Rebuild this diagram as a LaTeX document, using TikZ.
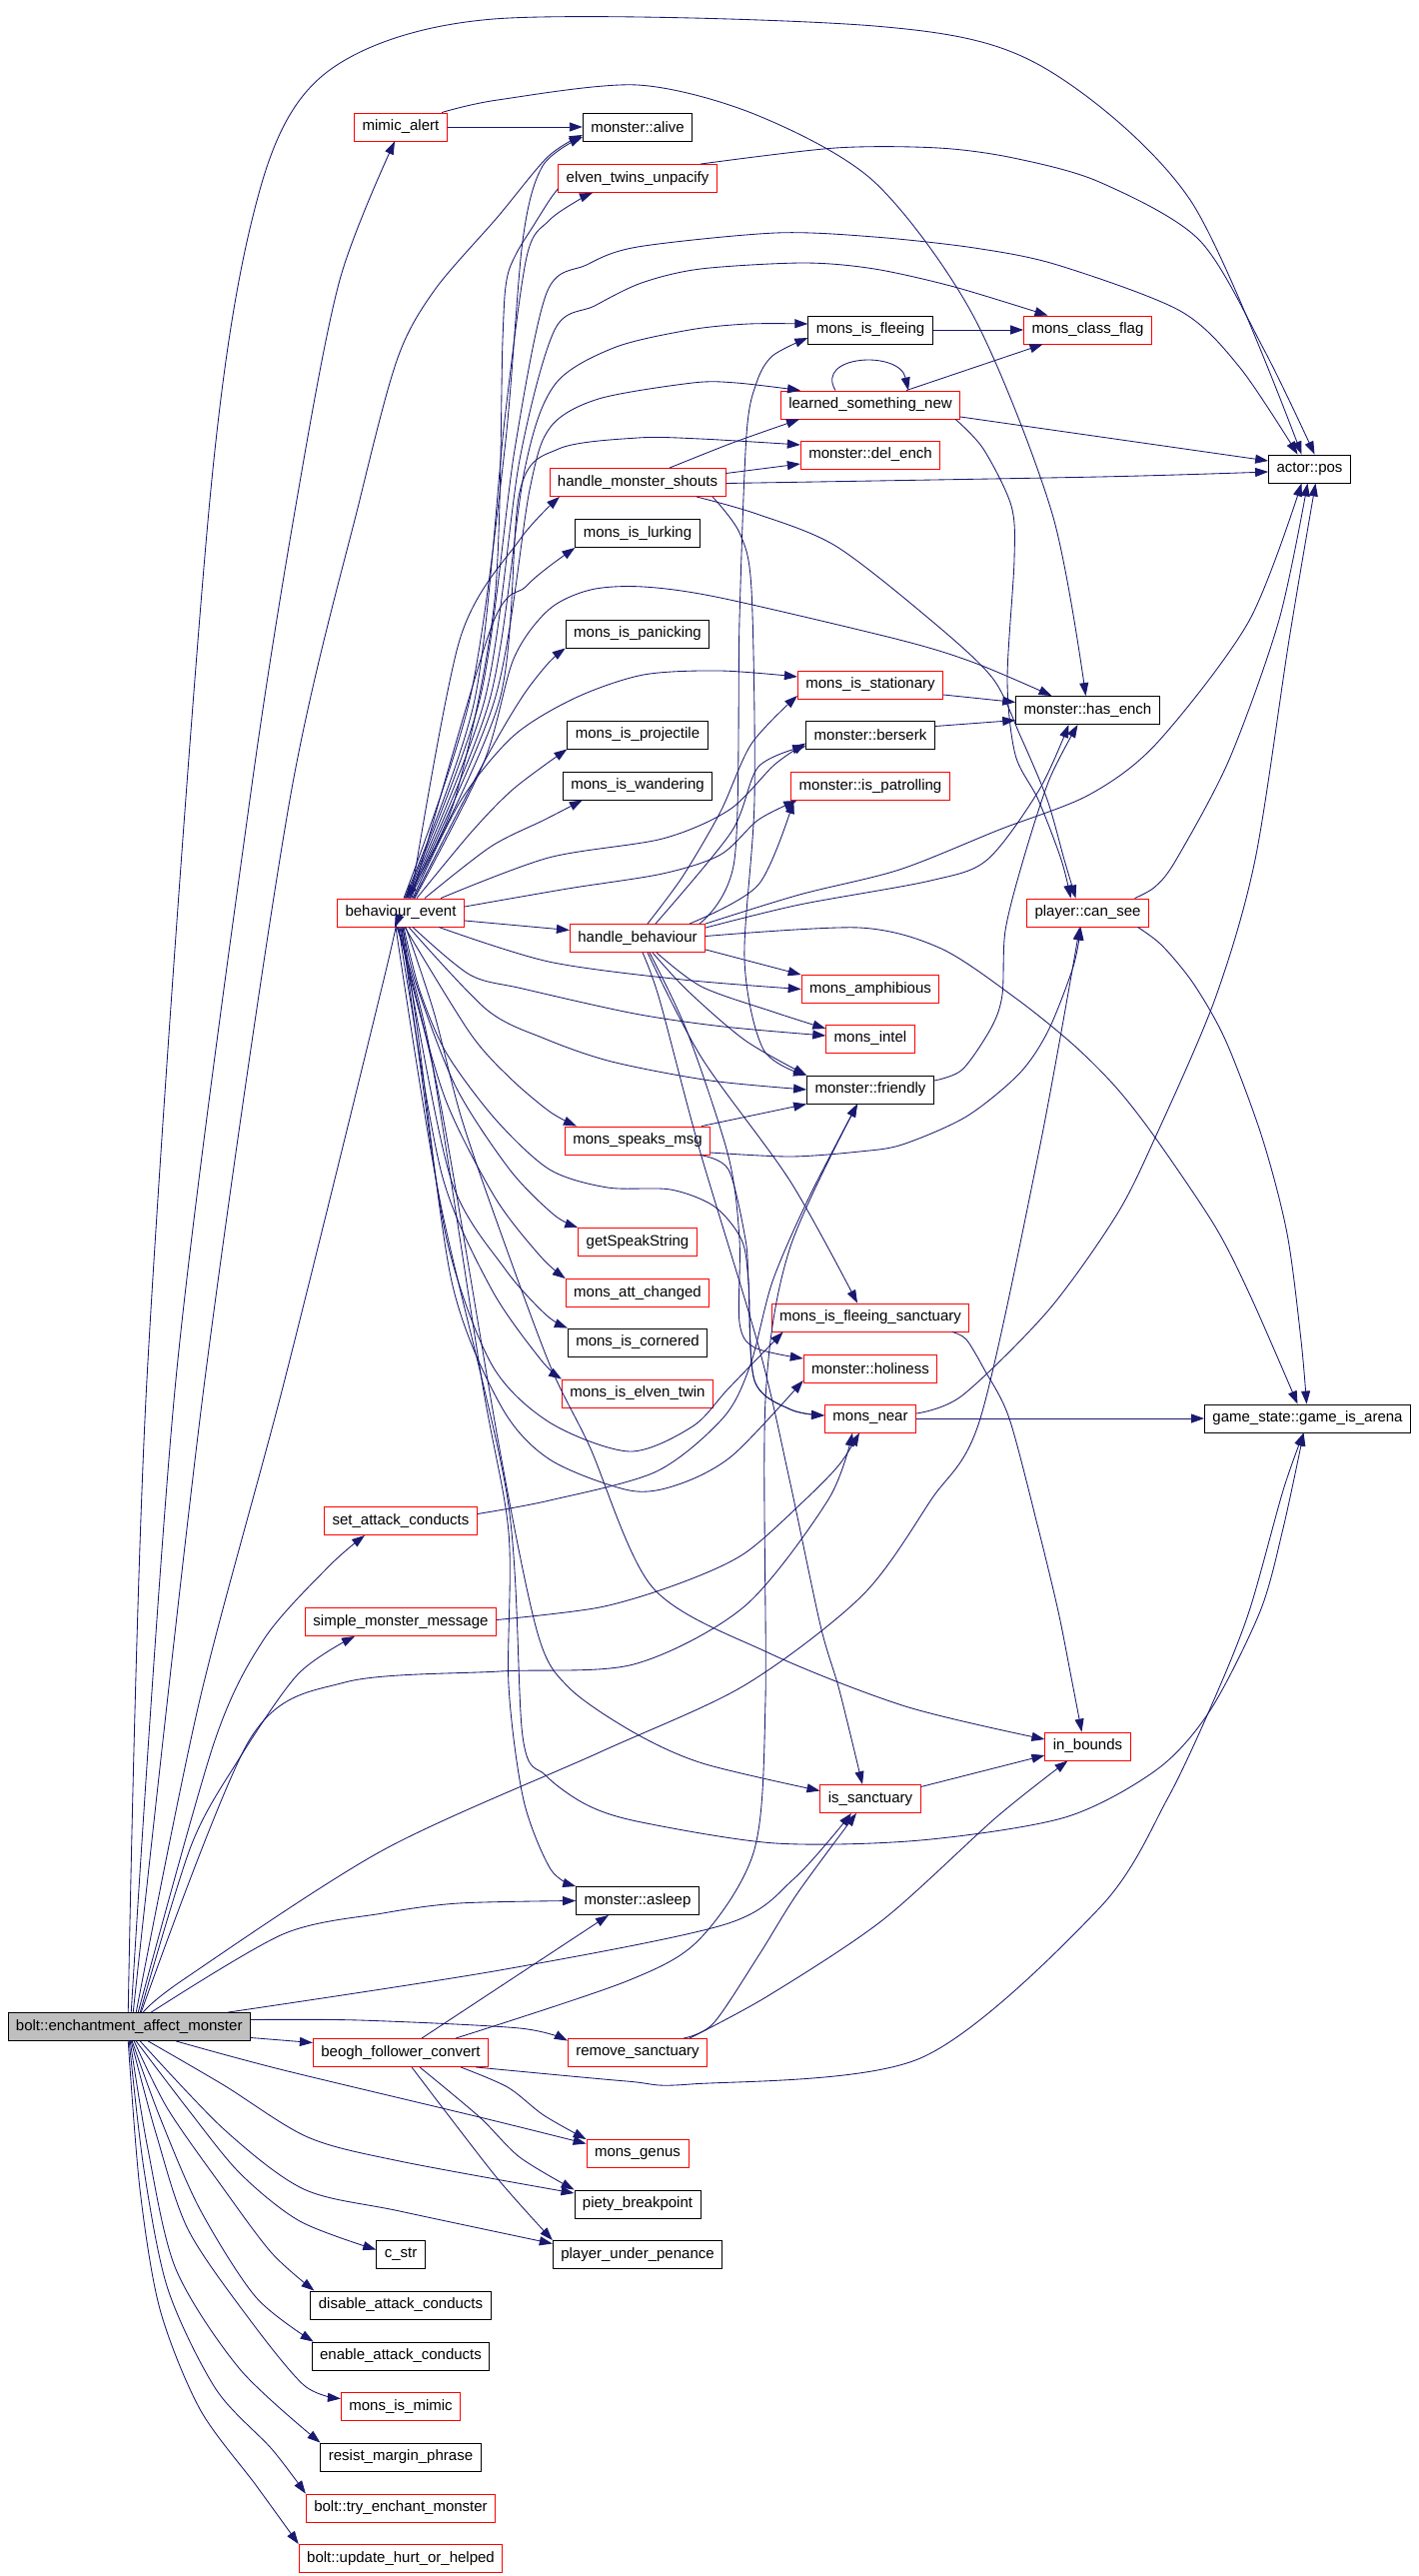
\documentclass[tikz,border=0pt]{standalone}
\usepackage{fontspec}
\setmainfont{Liberation Sans}
\usepackage{xcolor}
\usetikzlibrary{arrows.meta}
\definecolor{edgeblue}{HTML}{191970}
\definecolor{rootgrey}{HTML}{BFBFBF}

\begin{document}
\begin{tikzpicture}[x=1pt, y=-1pt,
  fnbox/.style={draw=black, rectangle, line width=0.9pt, minimum height=28pt,
    inner xsep=8pt, inner ysep=0pt, font=\fontsize{15}{18}\selectfont},
  fnred/.style={fnbox, draw=red},
  fnroot/.style={fnbox, fill=rootgrey},
  calls/.style={draw=edgeblue, line width=0.85pt, -{Triangle[length=13pt,width=9pt]}}]

  % Fundo
  \fill[white] (0,0) rectangle (1419,2577);

  % Nos
  \node[fnroot] (bolt) at (129.25,2027.5) {bolt::enchantment\_affect\_monster};

  \node[fnred] (mimic) at (401,127) {mimic\_alert};
  \node[fnred] (behaviour) at (401,913) {behaviour\_event};
  \node[fnred] (setatt) at (401,1521.5) {set\_attack\_conducts};
  \node[fnred] (simplemsg) at (401,1622.5) {simple\_monster\_message};
  \node[fnred] (beogh) at (401,2053.5) {beogh\_follower\_convert};
  \node[fnbox] (cstr) at (401,2255.5) {c\_str};
  \node[fnbox] (disableatt) at (401,2306) {disable\_attack\_conducts};
  \node[fnbox] (enableatt) at (401,2357) {enable\_attack\_conducts};
  \node[fnred] (ismimic) at (401,2407.5) {mons\_is\_mimic};
  \node[fnbox] (resist) at (401,2458) {resist\_margin\_phrase};
  \node[fnred] (tryench) at (401,2509) {bolt::try\_enchant\_monster};
  \node[fnred] (updatehurt) at (401,2559.5) {bolt::update\_hurt\_or\_helped};

  \node[fnbox] (alive) at (638,127) {monster::alive};
  \node[fnred] (elvenun) at (638,178.5) {elven\_twins\_unpacify};
  \node[fnred] (hms) at (638,482.5) {handle\_monster\_shouts};
  \node[fnbox] (lurking) at (638,533.5) {mons\_is\_lurking};
  \node[fnbox] (panicking) at (638,634) {mons\_is\_panicking};
  \node[fnbox] (projectile) at (638,735) {mons\_is\_projectile};
  \node[fnbox] (wandering) at (638,786) {mons\_is\_wandering};
  \node[fnred] (handle) at (638,938.5) {handle\_behaviour};
  \node[fnred] (speaks) at (638,1141) {mons\_speaks\_msg};
  \node[fnred] (getspeak) at (638,1242.5) {getSpeakString};
  \node[fnred] (attchanged) at (638,1293.5) {mons\_att\_changed};
  \node[fnbox] (cornered) at (638,1343) {mons\_is\_cornered};
  \node[fnred] (elventwin) at (638,1394) {mons\_is\_elven\_twin};
  \node[fnbox] (asleep) at (638,1901.5) {monster::asleep};
  \node[fnred] (removesanc) at (638,2053.5) {remove\_sanctuary};
  \node[fnred] (genus) at (638,2154.5) {mons\_genus};
  \node[fnbox] (piety) at (638,2205) {piety\_breakpoint};
  \node[fnbox] (penance) at (638,2255.5) {player\_under\_penance};

  \node[fnbox] (fleeing) at (871,330) {mons\_is\_fleeing};
  \node[fnred] (learned) at (871,405) {learned\_something\_new};
  \node[fnred] (delench) at (871,455) {monster::del\_ench};
  \node[fnred] (stationary) at (871,685) {mons\_is\_stationary};
  \node[fnbox] (berserk) at (871,735.5) {monster::berserk};
  \node[fnred] (patrolling) at (871,786.5) {monster::is\_patrolling};
  \node[fnred] (amphib) at (871,989.5) {mons\_amphibious};
  \node[fnred] (intel) at (871,1039) {mons\_intel};
  \node[fnbox] (friendly) at (871,1090) {monster::friendly};
  \node[fnred] (fleesanc) at (871,1318) {mons\_is\_fleeing\_sanctuary};
  \node[fnred] (holiness) at (871,1369) {monster::holiness};
  \node[fnred] (near) at (871,1419) {mons\_near};
  \node[fnred] (issanc) at (871,1799.5) {is\_sanctuary};

  \node[fnred] (classflag) at (1088.5,330) {mons\_class\_flag};
  \node[fnbox] (hasench) at (1088.5,710.5) {monster::has\_ench};
  \node[fnred] (cansee) at (1088.5,913) {player::can\_see};
  \node[fnred] (inbounds) at (1088.5,1747) {in\_bounds};

  \node[fnbox] (actorpos) at (1310.5,469) {actor::pos};
  \node[fnbox] (arena) at (1308.5,1419) {game\_state::game\_is\_arena};

  % Chamadas de bolt
  \draw[calls] plot[smooth] coordinates {([xshift=-1]bolt.north) (147,1380) (210,500) (260,190) (330,70) (494,19) (875,26) (1040,65) (1191,200) ([xshift=-8]actorpos.north)};
  \draw[calls] plot[smooth] coordinates {([xshift=2]bolt.north) (176,1380) (250,800) (297,500) (340,280) ([xshift=-6]mimic.south)};
  \draw[calls] plot[smooth] coordinates {([xshift=4]bolt.north) (205,1380) (290,800) (360,500) (398,358) (435,290) (498,217) (548,157) ([yshift=-8]alive.west)};
  \draw[calls] plot[smooth] coordinates {([xshift=7]bolt.north) (200,1700) (285,1380) (384,980) ([xshift=-6]behaviour.south)};
  \draw[calls] plot[smooth] coordinates {([xshift=9]bolt.north) (214,1744) (264,1640) (329,1567) ([xshift=-36]setatt.south)};
  \draw[calls] plot[smooth] coordinates {([xshift=11]bolt.north) (191,1847) (237,1763) (298,1675) ([xshift=-46]simplemsg.south)};
  \draw[calls] plot[smooth] coordinates {([xshift=14]bolt.north) (184,1980) (383,1851) (600,1753) (745,1686) (863,1596) (932,1500) (981,1419) (1040,1150) ([xshift=-8]cansee.south)};
  \draw[calls] plot[smooth] coordinates {([xshift=12]bolt.north) (250,1740) (345,1683) (500,1672) (634,1665) (745,1607) (829,1500) ([xshift=-18]near.south)};
  \draw[calls] plot[smooth] coordinates {([xshift=22]bolt.north) (283,1935) (383,1914) (459,1904) (asleep.west)};
  \draw[calls] plot[smooth] coordinates {([xshift=99]bolt.north) (500,1971) (726,1925) (795,1879) ([xshift=-19]issanc.south)};
  \draw[calls] plot[smooth] coordinates {([yshift=7]bolt.east) (360,2021) (520,2029) ([yshift=12]removesanc.west)};
  \draw[calls] ([yshift=-11]bolt.east) -- ([yshift=10]beogh.west);
  \draw[calls] plot[smooth] coordinates {([xshift=47]bolt.south) (280,2070) (480,2118) ([yshift=10]genus.west)};
  \draw[calls] plot[smooth] coordinates {([xshift=19]bolt.south) (224,2086) (308,2138) (400,2162) ([yshift=11]piety.west)};
  \draw[calls] plot[smooth] coordinates {([xshift=11]bolt.south) (224,2130) (304,2190) (400,2212) ([yshift=11]penance.west)};
  \draw[calls] plot[smooth] coordinates {([xshift=7]bolt.south) (188,2110) (240,2174) (300,2222) ([yshift=5]cstr.west)};
  \draw[calls] plot[smooth] coordinates {([xshift=5]bolt.south) (168,2110) (224,2190) (272,2254) ([xshift=4]disableatt.north west)};
  \draw[calls] plot[smooth] coordinates {([xshift=3]bolt.south) (160,2118) (200,2210) (256,2298) ([xshift=2]enableatt.north west)};
  \draw[calls] plot[smooth] coordinates {([xshift=2]bolt.south) (156,2134) (188,2230) (248,2318) (304,2386) ([yshift=8]ismimic.west)};
  \draw[calls] plot[smooth] coordinates {([xshift=1]bolt.south) (148,2150) (176,2270) (240,2370) (resist.north west)};
  \draw[calls] plot[smooth] coordinates {(bolt.south) (144,2170) (168,2290) (216,2390) (272,2450) (tryench.north west)};
  \draw[calls] plot[smooth] coordinates {([xshift=-1]bolt.south) (140,2190) (160,2310) (200,2410) (256,2486) (updatehurt.north west)};

  % Chamadas de beogh_follower_convert
  \draw[calls] ([xshift=21]beogh.north) -- ([xshift=-29]asleep.south);
  \draw[calls] plot[smooth] coordinates {([xshift=55]beogh.north) (627,1982) (700,1940) (755,1850) (766,1700) (766,1400) (790,1250) ([xshift=-13]friendly.south)};
  \draw[calls] plot[smooth] coordinates {([xshift=75]beogh.south) (627,2082) (691,2085) (921,2059) (1100,1909) (1168,1800) (1215,1700) (1250,1612) (1284,1491) ([xshift=-4]arena.south)};
  \draw[calls] plot[smooth] coordinates {([xshift=60]beogh.south) (508,2088) (544,2116) (genus.north west)};
  \draw[calls] plot[smooth] coordinates {([xshift=19]beogh.south) (480,2118) (520,2158) (piety.north west)};
  \draw[calls] plot[smooth] coordinates {([xshift=11]beogh.south) (444,2110) (500,2182) (penance.north west)};

  % Chamadas de mimic_alert e elven_twins_unpacify
  \draw[calls] (mimic.east) -- (alive.west);
  \draw[calls] plot[smooth] coordinates {([xshift=41]mimic.north) (498,100) (638,85) (757,115) (875,182) (974,316) (1053,514) ([xshift=-2]hasench.north)};
  \draw[calls] plot[smooth] coordinates {([xshift=63]elvenun.north) (836,148) (939,148) (1014,158) (1100,182) (1200,240) (1265,350) ([xshift=5]actorpos.north)};
  \draw[calls] plot[smooth] coordinates {([yshift=4]elvenun.south west) (550,200) (533,227) (517,253) (507,280) (503,340) (495,600) (455,800) ([xshift=5]behaviour.north)};

  % Chamadas de behaviour_event (para cima)
  \draw[calls] plot[smooth] coordinates {([xshift=3]behaviour.north) (470,700) (505,450) (523,241) (543,166) ([yshift=-10]alive.west)};
  \draw[calls] plot[smooth] coordinates {([xshift=4]behaviour.north) (475,700) (505,420) (527,257) (549,221) (579,200) ([xshift=-45]elvenun.south)};
  \draw[calls] plot[smooth] coordinates {([xshift=5]behaviour.north) (480,700) (515,450) (547,293) (587,265) (638,247) (776,233) (875,237) (975,248) (1058,265) (1181,311) (1241,368) ([xshift=-12]actorpos.north)};
  \draw[calls] plot[smooth] coordinates {([xshift=6]behaviour.north) (485,700) (520,460) (555,330) (595,306) (642,283) (701,269) (804,263) (875,269) (955,287) ([xshift=-40]classflag.north)};
  \draw[calls] plot[smooth] coordinates {([xshift=7]behaviour.north) (490,700) (525,470) (555,385) (614,348) (690,330) (749,324) ([yshift=6]fleeing.west)};
  \draw[calls] plot[smooth] coordinates {([xshift=8]behaviour.north) (495,700) (530,490) (551,427) (599,399) (693,383) (737,383) ([xshift=-70]learned.north)};
  \draw[calls] plot[smooth] coordinates {([xshift=9]behaviour.north) (500,700) (520,492) (559,449) (638,438) (701,439) ([yshift=10]delench.west)};
  \draw[calls] plot[smooth] coordinates {([xshift=10]behaviour.north) (460,640) (520,540) ([xshift=-78]hms.south)};
  \draw[calls] plot[smooth] coordinates {([xshift=11]behaviour.north) (491,629) (526,587) (549,567) (lurking.south west)};
  \draw[calls] plot[smooth] coordinates {([xshift=13]behaviour.north) (484,763) (522,698) (549,663) (panicking.south west)};
  \draw[calls] plot[smooth] coordinates {([xshift=16]behaviour.north) (472,832) (514,789) (projectile.south west)};
  \draw[calls] plot[smooth] coordinates {([xshift=24]behaviour.north) (491,847) (545,820) ([xshift=20]wandering.south west)};
  \draw[calls] plot[smooth] coordinates {([xshift=12]behaviour.north) (461,801) (514,736) (576,698) (644,675) (721,671) ([yshift=8]stationary.west)};
  \draw[calls] plot[smooth] coordinates {([xshift=14]behaviour.north) (484,763) (514,659) (549,610) (591,590) (644,587) (721,598) (900,640) (975,663) ([xshift=-36]hasench.north)};
  \draw[calls] plot[smooth] coordinates {([xshift=40]behaviour.north) (549,858) (663,839) (730,810) (775,765) ([yshift=-8]berserk.west)};
  \draw[calls] plot[smooth] coordinates {([yshift=6]behaviour.east) (568,889) (663,874) (721,855) (759,820) ([xshift=6]patrolling.south west)};

  % Chamadas de behaviour_event (para baixo)
  \draw[calls] ([yshift=-8]behaviour.east) -- ([yshift=8]handle.west);
  \draw[calls] plot[smooth] coordinates {([xshift=38]behaviour.south) (549,962) (683,980) (amphib.west)};
  \draw[calls] plot[smooth] coordinates {([xshift=12]behaviour.south) (470,975) (523,989) (635,1014) (724,1027) ([yshift=3]intel.west)};
  \draw[calls] plot[smooth] coordinates {([xshift=8]behaviour.south) (487,1010) (545,1039) (612,1062) (711,1081) (friendly.west)};
  \draw[calls] plot[smooth] coordinates {([xshift=4]behaviour.south) (470,1033) (510,1078) (550,1112) ([xshift=12]speaks.north west)};
  \draw[calls] plot[smooth] coordinates {([xshift=2]behaviour.south) (416,983) (456,1087) (510,1170) (554,1215) (getspeak.north west)};
  \draw[calls] plot[smooth] coordinates {(behaviour.south) (414,991) (447,1103) (496,1199) (541,1257) (attchanged.north west)};
  \draw[calls] plot[smooth] coordinates {([xshift=-1]behaviour.south) (412,991) (452,1182) (505,1269) (546,1315) (cornered.north west)};
  \draw[calls] plot[smooth] coordinates {([xshift=-2]behaviour.south) (409,991) (443,1178) (492,1290) (541,1360) (elventwin.north west)};
  \draw[calls] plot[smooth] coordinates {([xshift=1]behaviour.south) (416,1033) (447,1240) (492,1365) (550,1423) (630,1452) (693,1427) (729,1389) ([xshift=12]fleesanc.south west)};
  \draw[calls] plot[smooth] coordinates {([xshift=2]behaviour.south) (418,1033) (452,1282) (501,1406) (550,1460) (630,1491) (679,1485) (733,1456) ([yshift=-12]holiness.west)};
  \draw[calls] plot[smooth] coordinates {([xshift=3]behaviour.south) (420,991) (447,1054) (496,1120) (550,1170) (608,1188) (671,1190) (715,1207) (742,1240) (749,1282) (755,1381) (791,1410) ([yshift=3]near.west)};
  \draw[calls] plot[smooth] coordinates {([xshift=-4]behaviour.south) (430,1050) (482,1380) (509,1533) (509,1686) (524,1801) (551,1870) (asleep.north west)};
  \draw[calls] plot[smooth] coordinates {([xshift=-3]behaviour.south) (440,1100) (500,1450) (538,1634) (569,1688) (634,1733) (703,1764) ([yshift=8]issanc.west)};
  \draw[calls] plot[smooth] coordinates {([xshift=5]behaviour.south) (434,1012) (461,1116) (496,1219) (550,1365) (590,1447) (653,1588) (768,1653) (906,1707) ([yshift=7]inbounds.west)};
  \draw[calls] plot[smooth] coordinates {([xshift=-5]behaviour.south) (440,1200) (508,1500) (523,1737) (546,1776) (588,1806) (642,1823) (776,1844) (921,1841) (1066,1818) (1158,1770) (1211,1711) (1261,1612) (1284,1529) ([xshift=-4]arena.south)};

  % Chamadas de handle_monster_shouts
  \draw[calls] plot[smooth] coordinates {([xshift=32]hms.north) (733,443) ([xshift=-71]learned.south)};
  \draw[calls] ([yshift=9]hms.east) -- ([yshift=-9]delench.west);
  \draw[calls] plot[smooth] coordinates {([yshift=-1]hms.east) (1100,477) ([yshift=-3]actorpos.west)};
  \draw[calls] plot[smooth] coordinates {([xshift=59]hms.south) (757,514) (836,546) (931,620) (993,678) (1021,736) (1048,800) (1065,860) ([xshift=-12]cansee.north)};
  \draw[calls] plot[smooth] coordinates {([xshift=75]hms.south) (740,533) (752,590) (755,800) (745,960) (764,1050) (friendly.north west)};

  % Chamadas de learned_something_new e mons_is_fleeing
  \draw[calls] ([xshift=36]learned.north) -- ([xshift=-45]classflag.south);
  \draw[calls] ([xshift=-35]learned.north) .. controls (815,355) and (900,350) .. ([xshift=38]learned.north);
  \draw[calls] ([yshift=-12]learned.east) -- ([yshift=8]actorpos.west);
  \draw[calls] plot[smooth] coordinates {([xshift=-5]learned.south east) (984,449) (1012,506) (1015,560) (1008,680) (1016,755) (1039,800) (1062,860) ([xshift=-17]cansee.north)};
  \draw[calls] (fleeing.east) -- (classflag.west);

  % Chamadas de handle_behaviour
  \draw[calls] plot[smooth] coordinates {([xshift=62]handle.north) (735,860) (740,620) (747,435) (757,383) (773,356) ([yshift=-8]fleeing.west)};
  \draw[calls] plot[smooth] coordinates {([xshift=10]handle.north) (683,877) (721,812) (752,744) ([yshift=-11]stationary.west)};
  \draw[calls] plot[smooth] coordinates {([xshift=18]handle.north) (732,832) (759,767) ([yshift=-11]berserk.west)};
  \draw[calls] plot[smooth] coordinates {([xshift=52]handle.north) (759,885) ([xshift=3]patrolling.south west)};
  \draw[calls] plot[smooth] coordinates {(handle.north east) (800,895) (900,870) (1000,830) (1090,795) (1158,743) (1250,621) ([xshift=-8]actorpos.south)};
  \draw[calls] plot[smooth] coordinates {([yshift=-4]handle.north east) (800,905) (931,881) (988,860) (1040,790) ([xshift=-19]hasench.south)};
  \draw[calls] plot[smooth] coordinates {([yshift=2]handle.east) (860,928) (942,949) (1017,999) (1074,1045) (1117,1088) (1156,1138) (1216,1227) (1252,1298) ([xshift=-10]arena.north)};
  \draw[calls] ([yshift=3]handle.south east) -- (amphib.north west);
  \draw[calls] plot[smooth] coordinates {([xshift=19]handle.south) (702,987) (773,1012) ([yshift=10]intel.west)};
  \draw[calls] plot[smooth] coordinates {([xshift=15]handle.south) (688,991) (746,1041) (friendly.north west)};
  \draw[calls] plot[smooth] coordinates {([xshift=10]handle.south) (702,1058) (791,1182) ([xshift=-13]fleesanc.north)};
  \draw[calls] plot[smooth] coordinates {([xshift=12]handle.south) (688,1033) (729,1157) (740,1240) (740,1323) (755,1348) ([yshift=10]holiness.west)};
  \draw[calls] plot[smooth] coordinates {([xshift=5]handle.south) (660,1000) (700,1150) (760,1350) (790,1480) (821,1626) (840,1691) ([xshift=-8]issanc.north)};

  % Chamadas de mons_speaks_msg, set_attack_conducts, simple_monster_message
  \draw[calls] ([xshift=64]speaks.north) -- (friendly.south west);
  \draw[calls] plot[smooth] coordinates {([yshift=-12]speaks.east) (791,1157) (860,1152) (903,1145) (967,1117) (1020,1074) (1049,1031) (1074,967) ([xshift=-7]cansee.south)};
  \draw[calls] plot[smooth] coordinates {([xshift=62]speaks.south) (729,1170) (746,1240) (749,1282) (755,1381) (791,1410) ([yshift=3]near.west)};
  \draw[calls] plot[smooth] coordinates {([yshift=7]setatt.east) (550,1501) (657,1472) (724,1418) (751,1365) (773,1282) (809,1199) ([xshift=-13]friendly.south)};
  \draw[calls] plot[smooth] coordinates {([yshift=2]simplemsg.east) (600,1608) (680,1584) (745,1554) (806,1500) (840,1465) ([xshift=-11]near.south)};

  % Chamadas para monster::has_ench
  \draw[calls] plot[smooth] coordinates {([yshift=9]friendly.east) (963,1070) (992,1028) (1003,995) (1006,931) (1024,860) (1050,780) ([xshift=-10]hasench.south)};
  \draw[calls] ([yshift=-10]stationary.east) -- ([yshift=8]hasench.west);
  \draw[calls] ([yshift=9]berserk.east) -- ([yshift=-10]hasench.west);

  % Chamadas de player::can_see e mons_near
  \draw[calls] plot[smooth] coordinates {([xshift=47]cansee.north) (1156,887) (1177,860) (1230,760) (1280,620) ([xshift=-2]actorpos.south)};
  \draw[calls] plot[smooth] coordinates {([xshift=50]cansee.south) (1163,946) (1195,985) (1227,1042) (1263,1138) (1288,1234) (1302,1341) ([xshift=-1]arena.north)};
  \draw[calls] plot[smooth] coordinates {([yshift=5]near.east) (963,1396) (1049,1311) (1117,1216) (1156,1138) (1216,999) (1256,860) (1290,640) ([xshift=6]actorpos.south)};
  \draw[calls] (near.east) -- (arena.west);

  % Chamadas para in_bounds e is_sanctuary
  \draw[calls] plot[smooth] coordinates {([xshift=82]fleesanc.south) (967,1340) (985,1370) (1010,1419) (1039,1529) (1059,1612) (1072,1678) ([xshift=-6]inbounds.north)};
  \draw[calls] ([yshift=12]issanc.east) -- ([yshift=-9]inbounds.west);
  \draw[calls] plot[smooth] coordinates {([xshift=46]removesanc.north) (714,2024) (760,1955) (798,1894) ([xshift=-14]issanc.south)};
  \draw[calls] plot[smooth] coordinates {([xshift=52]removesanc.north) (768,1997) (883,1921) (997,1818) ([xshift=-20]inbounds.south)};
\end{tikzpicture}
\end{document}
